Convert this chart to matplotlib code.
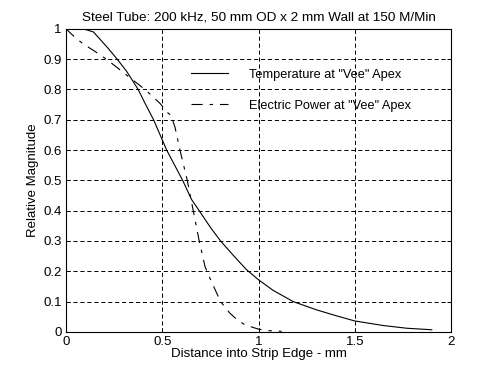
import matplotlib
matplotlib.use("Agg")
import matplotlib.pyplot as plt

# --- DATA ---
temp_x = [0, 0.09, 0.142, 0.185, 0.22, 0.266, 0.315, 0.375, 0.41, 0.455, 0.523,
          0.606, 0.653, 0.692, 0.75, 0.803, 0.87, 0.938, 1.0, 1.076, 1.18, 1.30,
          1.405, 1.5, 1.648, 1.77, 1.9]
temp_y = [1.0, 1.0, 0.99, 0.96, 0.935, 0.90, 0.86, 0.80, 0.755, 0.70, 0.60,
          0.50, 0.436, 0.40, 0.345, 0.30, 0.252, 0.205, 0.172, 0.137, 0.10, 0.073,
          0.053, 0.036, 0.021, 0.012, 0.007]

power_x = [0, 0.05, 0.09, 0.14, 0.21, 0.28, 0.35, 0.41, 0.45, 0.49, 0.525, 0.545,
           0.566, 0.592, 0.63, 0.661, 0.692, 0.722, 0.751, 0.803, 0.851, 0.889,
           0.938, 0.96, 1.0, 1.05, 1.12]
power_y = [1.0, 0.97, 0.95, 0.93, 0.90, 0.865, 0.83, 0.80, 0.777, 0.753, 0.725,
           0.715, 0.676, 0.60, 0.50, 0.40, 0.30, 0.216, 0.172, 0.10, 0.062, 0.04,
           0.02, 0.017, 0.009, 0.004, 0.002]

x_ticks = [0, 0.5, 1, 1.5, 2]
x_tick_labels = ["0", "0.5", "1", "1.5", "2"]
y_ticks = [0, 0.1, 0.2, 0.3, 0.4, 0.5, 0.6, 0.7, 0.8, 0.9, 1]
y_tick_labels = ["0", "0.1", "0.2", "0.3", "0.4", "0.5", "0.6", "0.7", "0.8", "0.9", "1"]

title = "Steel Tube: 200 kHz, 50 mm OD x 2 mm Wall at 150 M/Min"
temp_label = 'Temperature at "Vee" Apex'
power_label = 'Electric Power at "Vee" Apex'

# --- STYLE ---
plt.rcParams['font.family'] = ['Liberation Sans', 'DejaVu Sans']
plt.rcParams['font.size'] = 9.5
plt.rcParams['lines.scale_dashes'] = False

fig = plt.figure(figsize=(5, 3.75), dpi=100)
ax = fig.add_axes([0.132, 0.115, 0.77, 0.808])

ax.plot(temp_x, temp_y, color='black', linewidth=0.8, label=temp_label)
ax.plot(power_x, power_y, color='black', linewidth=0.8,
        dashes=(8, 5, 2.5, 5), label=power_label)

ax.set_xlim(0, 2)
ax.set_ylim(0, 1)
ax.set_xticks(x_ticks)
ax.set_xticklabels(x_tick_labels)
ax.set_yticks(y_ticks)
ax.set_yticklabels(y_tick_labels)
ax.tick_params(direction='in', length=3, width=0.7, top=True, right=True,
               colors='black', pad=3)

ax.grid(True, color='black', linewidth=0.7, linestyle=(0, (3, 2)))

for spine in ax.spines.values():
    spine.set_linewidth(0.8)

ax.set_title(title, fontsize=9.7, pad=6)
ax.set_xlabel("Distance into Strip Edge - mm", labelpad=0)
ax.set_ylabel("Relative Magnitude", labelpad=3)

ax.legend(loc='upper left', bbox_to_anchor=(0.312, 0.886), frameon=False,
          handlelength=2.9, handletextpad=1.6, labelspacing=1.5,
          borderaxespad=0, fontsize=9.2)

fig.savefig("out.png", dpi=100)
